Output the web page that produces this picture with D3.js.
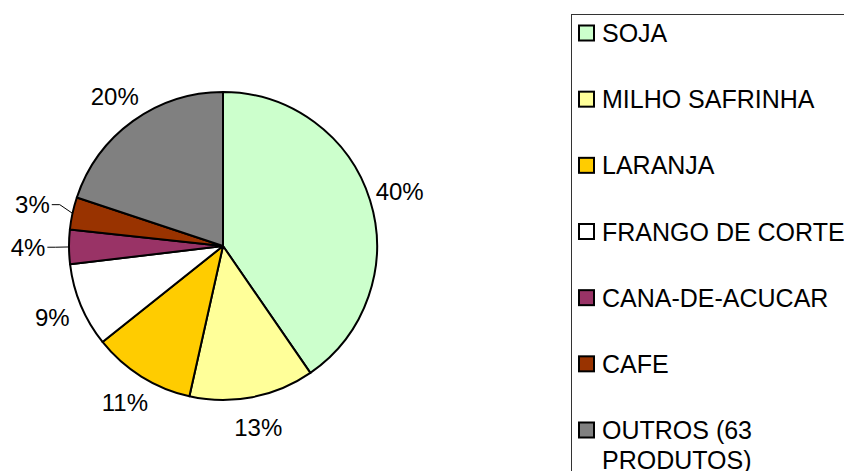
<!DOCTYPE html>
<html>
<head>
<meta charset="utf-8">
<script src="https://cdn.jsdelivr.net/npm/d3@7"></script>
<style>
  body { margin: 0; background: #fff; }
  svg { display: block; font-family: "Liberation Sans", Arial, sans-serif; }
</style>
</head>
<body>
<svg id="chart"></svg>
<script>
const categories = ["SOJA", "MILHO SAFRINHA", "LARANJA", "FRANGO DE CORTE", "CANA-DE-ACUCAR", "CAFE", "OUTROS (63 PRODUTOS)"];
const values = [40.4, 13.1, 10.8, 8.8, 3.6, 3.4, 19.9];
const colors = ["#CCFFCC", "#FFFF99", "#FFCC00", "#FFFFFF", "#993366", "#993300", "#808080"];
const legendLines = [["SOJA"], ["MILHO SAFRINHA"], ["LARANJA"], ["FRANGO DE CORTE"], ["CANA-DE-ACUCAR"], ["CAFE"], ["OUTROS (63", "PRODUTOS)"]];

const width = 844;
const height = 471;
const cx = 223, cy = 246, radius = 154;

const svg = d3.select("#chart").attr("width", width).attr("height", height);

const total = d3.sum(values);
const data = categories.map((c, i) => ({ name: c, value: values[i], color: colors[i] }));

const pie = d3.pie().value(d => d.value).sort(null);
const arcs = pie(data);
const arc = d3.arc().innerRadius(0).outerRadius(radius);

const g = svg.append("g").attr("transform", `translate(${cx},${cy})`);

g.selectAll("path.slice")
  .data(arcs)
  .enter()
  .append("path")
  .attr("class", "slice")
  .attr("d", arc)
  .attr("fill", d => d.data.color)
  .attr("stroke", "#000")
  .attr("stroke-width", 2)
  .attr("stroke-linejoin", "round");

// labels - small slices get pushed out with a leader line
const labelArc = d3.arc().innerRadius(185).outerRadius(185);
const farArc = d3.arc().innerRadius(195).outerRadius(195);
const edgeArc = d3.arc().innerRadius(radius).outerRadius(radius);

arcs.forEach(d => {
  const pct = Math.round(d.data.value / total * 100) + "%";
  const small = d.data.value < 5;
  const [x, y] = small ? farArc.centroid(d) : labelArc.centroid(d);
  const t = g.append("text")
    .attr("x", x)
    .attr("y", y)
    .attr("text-anchor", "middle")
    .attr("dominant-baseline", "central")
    .attr("font-size", 24)
    .attr("fill", "#000")
    .text(pct);
  if (small) {
    const w = t.node().getComputedTextLength();
    const [ex, ey] = edgeArc.centroid(d);
    const sx = x + w / 2 + 2;
    g.append("path")
      .attr("d", `M${sx},${y} L${sx + 8},${y} L${ex},${ey}`)
      .attr("fill", "none")
      .attr("stroke", "#000")
      .attr("stroke-width", 1);
  }
});

// legend
const legend = svg.append("g");
legend.append("rect")
  .attr("x", 571.5)
  .attr("y", 14.5)
  .attr("width", 300)
  .attr("height", 480)
  .attr("fill", "#fff")
  .attr("stroke", "#333")
  .attr("stroke-width", 1);

const rowY = d3.scalePoint().domain(categories).range([33, 430]);

categories.forEach((c, i) => {
  const y = rowY(c);
  legend.append("rect")
    .attr("x", 579)
    .attr("y", y - 7.5)
    .attr("width", 15)
    .attr("height", 15)
    .attr("fill", colors[i])
    .attr("stroke", "#000")
    .attr("stroke-width", 2);
  legendLines[i].forEach((line, j) => {
    legend.append("text")
      .attr("x", 602)
      .attr("y", y + j * 30)
      .attr("dominant-baseline", "central")
      .attr("font-size", 25)
      .attr("fill", "#000")
      .text(line);
  });
});
</script>
</body>
</html>
